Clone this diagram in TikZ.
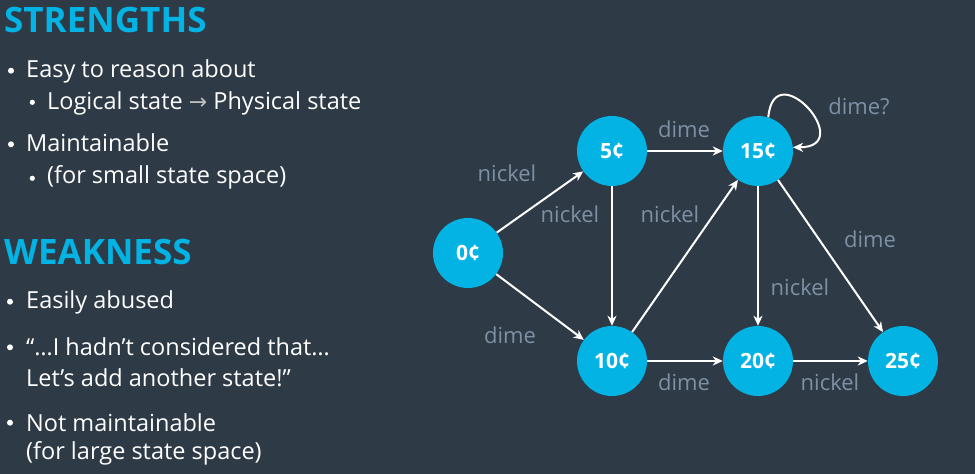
\documentclass[tikz,border=0pt]{standalone}
\usepackage{fontspec}
\setmainfont{Open Sans}
\newfontfamily\arrowfont{DejaVu Sans}
\usetikzlibrary{arrows.meta}
\definecolor{slidebg}{HTML}{2E3A46}
\definecolor{coincyan}{HTML}{02B3E4}
\definecolor{lblgray}{HTML}{7D90A4}

\begin{document}
\begin{tikzpicture}[x=1pt,y=1pt,
    coin/.style={circle, fill=coincyan, minimum size=70pt, inner sep=0pt, text=white, font=\fontsize{21}{21}\selectfont\bfseries},
    trans/.style={-{Stealth[length=10pt,width=9pt,inset=3pt]}, line width=2pt, white},
    lbl/.style={text=lblgray, font=\fontsize{22}{22}\selectfont, inner sep=0pt},
    head/.style={anchor=base west, text=coincyan, font=\fontsize{35}{35}\selectfont\bfseries, inner sep=0pt},
    item/.style={anchor=base west, text=white, font=\fontsize{23.5}{23.5}\selectfont, inner sep=0pt}]
    \fill[slidebg] (0,0) rectangle (975,474);
    \useasboundingbox (0,0) rectangle (975,474);
    % left column
    \node[head] (strengths) at (4,441) {STRENGTHS};
    \node[item] (easy) at (26,396.3) {Easy to reason about};
    \node[item] (logical) at (47,364) {Logical state {\arrowfont\fontsize{22}{22}\selectfont\color{lightgray}→} Physical state};
    \node[item] (maint) at (26,322.3) {Maintainable};
    \node[item] (small) at (47,290) {(for small state space)};
    \node[head] (weakness) at (4,209) {WEAKNESS};
    \node[item] (abused) at (26,165) {Easily abused};
    \node[item] (hadnt) at (26,118.3) {“…I hadn’t considered that…};
    \node[item] (another) at (26,87.3) {Let’s add another state!”};
    \node[item] (notmaint) at (26,42.3) {Not maintainable};
    \node[item] (large) at (26,14) {(for large state space)};
    \foreach \x/\y in {11/403.3, 11/329.7, 10/172.3, 10/126.7, 10/51.3}
        \fill[white] (\x,\y) circle (3pt);
    \foreach \x/\y in {32.3/371.7, 32.3/295.7}
        \fill[white] (\x,\y) circle (2.6pt);
    % states
    \node[coin] (c0) at (468,221) {0¢};
    \node[coin] (c5) at (612,323) {5¢};
    \node[coin] (c15) at (758,323) {15¢};
    \node[coin] (c10) at (612,113) {10¢};
    \node[coin] (c20) at (758,113) {20¢};
    \node[coin] (c25) at (903,113) {25¢};
    % transitions
    \draw[trans] (c0) -- (c5);
    \draw[trans] (c0) -- (c10);
    \draw[trans] (c5) -- (c15);
    \draw[trans] (c5) -- (c10);
    \draw[trans] (c10) -- (c15);
    \draw[trans] (c10) -- (c20);
    \draw[trans] (c15) -- (c20);
    \draw[trans] (c15) -- (c25);
    \draw[trans] (c20) -- (c25);
    \draw[trans] (c15.73) to[out=85,in=0,looseness=4.3] (c15.6);
    % labels
    \node[lbl] (l05) at (507,301) {nickel};
    \node[lbl] (l010) at (510,139) {dime};
    \node[lbl] (l515) at (684,345) {dime};
    \node[lbl] (l510) at (570,260) {nickel};
    \node[lbl] (l1015) at (670,260) {nickel};
    \node[lbl] (l1515) at (859,368) {dime?};
    \node[lbl] (l1525) at (870,235) {dime};
    \node[lbl] (l1520) at (800,187) {nickel};
    \node[lbl] (l1020) at (684,92) {dime};
    \node[lbl] (l2025) at (830,92) {nickel};
\end{tikzpicture}
\end{document}
